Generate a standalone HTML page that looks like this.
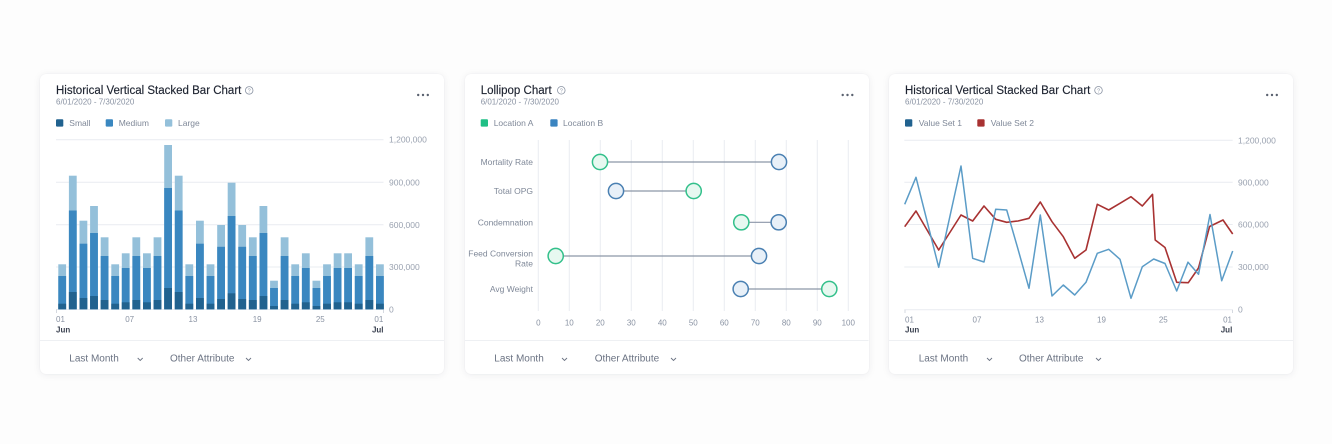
<!DOCTYPE html>
<html><head><meta charset="utf-8"><style>
html,body{margin:0;padding:0;background:#fdfdfd;}
body{width:1332px;height:444px;position:relative;overflow:hidden;font-family:"Liberation Sans",Arial,sans-serif;}
.card{position:absolute;top:74px;width:404px;height:300px;background:#fff;border-radius:6px;box-shadow:0 1px 8px rgba(20,30,50,0.07),0 0 1px rgba(20,30,50,0.08);}
svg{position:absolute;left:0;top:0;}
.t{font-size:11.5px;fill:#1d2330;stroke:#1d2330;stroke-width:0.15px;}
.s{font-size:8px;fill:#8a93a3;}
.lg{font-size:8.5px;fill:#7f8898;}
.ax{font-size:8.5px;fill:#9aa2b0;}
.xt{font-size:8px;fill:#8a93a3;}
.xb{font-size:8px;fill:#3a4150;font-weight:bold;}
.ft{font-size:10px;fill:#6b7383;}
.rl{font-size:8.5px;fill:#7f8898;}
</style></head><body>
<div class="card" style="left:40px"></div>
<div class="card" style="left:464.5px"></div>
<div class="card" style="left:889px"></div>
<svg width="1332" height="444" viewBox="0 0 1332 444">
<defs>
<g id="cA"><rect y="264.3" width="7.8" height="45" fill="#94c0da"/><rect y="276" width="7.8" height="33.3" fill="#3a87c0"/><rect y="303.7" width="7.8" height="5.6" fill="#21628f"/></g>
<g id="cB"><rect y="175.7" width="7.8" height="133.6" fill="#94c0da"/><rect y="210.5" width="7.8" height="98.8" fill="#3a87c0"/><rect y="292" width="7.8" height="17.3" fill="#21628f"/></g>
<g id="cC"><rect y="220.7" width="7.8" height="88.6" fill="#94c0da"/><rect y="243.7" width="7.8" height="65.6" fill="#3a87c0"/><rect y="298" width="7.8" height="11.3" fill="#21628f"/></g>
<g id="cD"><rect y="206" width="7.8" height="103.3" fill="#94c0da"/><rect y="233" width="7.8" height="76.3" fill="#3a87c0"/><rect y="296" width="7.8" height="13.3" fill="#21628f"/></g>
<g id="cE"><rect y="237.3" width="7.8" height="72" fill="#94c0da"/><rect y="256" width="7.8" height="53.3" fill="#3a87c0"/><rect y="300" width="7.8" height="9.3" fill="#21628f"/></g>
<g id="cF"><rect y="253.3" width="7.8" height="56" fill="#94c0da"/><rect y="268" width="7.8" height="41.3" fill="#3a87c0"/><rect y="302.3" width="7.8" height="7" fill="#21628f"/></g>
<g id="cG"><rect y="145" width="7.8" height="164.3" fill="#94c0da"/><rect y="188" width="7.8" height="121.3" fill="#3a87c0"/><rect y="288" width="7.8" height="21.3" fill="#21628f"/></g>
<g id="cH"><rect y="225" width="7.8" height="84.3" fill="#94c0da"/><rect y="246.8" width="7.8" height="62.5" fill="#3a87c0"/><rect y="299" width="7.8" height="10.3" fill="#21628f"/></g>
<g id="cI"><rect y="182.7" width="7.8" height="126.6" fill="#94c0da"/><rect y="216" width="7.8" height="93.3" fill="#3a87c0"/><rect y="293.3" width="7.8" height="16" fill="#21628f"/></g>
<g id="cJ"><rect y="280.7" width="7.8" height="28.6" fill="#94c0da"/><rect y="288" width="7.8" height="21.3" fill="#3a87c0"/><rect y="306" width="7.8" height="3.3" fill="#21628f"/></g>
</defs>

<!-- ========== LEFT CARD ========== -->
<text class="t" x="56" y="94">Historical Vertical Stacked Bar Chart</text>
<circle cx="249.2" cy="90.4" r="3.8" fill="none" stroke="#8a93a3" stroke-width="0.8"/>
<text x="249.2" y="92.6" font-size="5.5" fill="#8a93a3" text-anchor="middle">?</text>
<text class="s" x="56" y="104.5">6/01/2020 - 7/30/2020</text>
<g fill="#5b6270"><circle cx="418.2" cy="95" r="1.2"/><circle cx="423" cy="95" r="1.2"/><circle cx="427.8" cy="95" r="1.2"/></g>
<rect x="56" y="119.3" width="7.3" height="7.3" rx="1" fill="#21628f"/>
<text class="lg" x="69.3" y="126">Small</text>
<rect x="105.7" y="119.3" width="7.3" height="7.3" rx="1" fill="#3a87c0"/>
<text class="lg" x="118.7" y="126">Medium</text>
<rect x="165" y="119.3" width="7.3" height="7.3" rx="1" fill="#94c0da"/>
<text class="lg" x="178" y="126">Large</text>

<g stroke="#e9ecf1" stroke-width="1">
<line x1="56" y1="139.7" x2="383.5" y2="139.7"/>
<line x1="56" y1="182.3" x2="383.5" y2="182.3"/>
<line x1="56" y1="224.8" x2="383.5" y2="224.8"/>
<line x1="56" y1="267" x2="383.5" y2="267"/>
<line x1="56" y1="309.5" x2="383.5" y2="309.5"/>
</g>
<text class="ax" x="389" y="142.7">1,200,000</text>
<text class="ax" x="389" y="185.3">900,000</text>
<text class="ax" x="389" y="227.8">600,000</text>
<text class="ax" x="389" y="270">300,000</text>
<text class="ax" x="389" y="312.5">0</text>
<use href="#cA" x="58.3"/><use href="#cB" x="68.9"/><use href="#cC" x="79.5"/><use href="#cD" x="90.1"/>
<use href="#cE" x="100.7"/><use href="#cA" x="111.3"/><use href="#cF" x="121.8"/><use href="#cE" x="132.4"/>
<use href="#cF" x="143.0"/><use href="#cE" x="153.6"/><use href="#cG" x="164.2"/><use href="#cB" x="174.8"/>
<use href="#cA" x="185.4"/><use href="#cC" x="196.0"/><use href="#cA" x="206.6"/><use href="#cH" x="217.2"/>
<use href="#cI" x="227.7"/><use href="#cH" x="238.3"/><use href="#cE" x="248.9"/><use href="#cD" x="259.5"/>
<use href="#cJ" x="270.1"/><use href="#cE" x="280.7"/><use href="#cA" x="291.3"/><use href="#cF" x="301.9"/>
<use href="#cJ" x="312.5"/><use href="#cA" x="323.1"/><use href="#cF" x="333.7"/><use href="#cF" x="344.2"/>
<use href="#cA" x="354.8"/><use href="#cE" x="365.4"/><use href="#cA" x="376.0"/>
<g stroke="#d5d9e0" stroke-width="1"><line x1="56.5" y1="309.5" x2="56.5" y2="313"/><line x1="383.5" y1="309.5" x2="383.5" y2="313"/></g>
<text class="xt" x="56" y="322">01</text>
<text class="xb" x="56" y="332.3">Jun</text>
<text class="xt" x="129.7" y="322" text-anchor="middle">07</text>
<text class="xt" x="193" y="322" text-anchor="middle">13</text>
<text class="xt" x="257.2" y="322" text-anchor="middle">19</text>
<text class="xt" x="320.3" y="322" text-anchor="middle">25</text>
<text class="xt" x="383.3" y="322" text-anchor="end">01</text>
<text class="xb" x="383.5" y="332.3" text-anchor="end">Jul</text>
<line x1="40" y1="340.5" x2="444" y2="340.5" stroke="#eef0f3" stroke-width="1"/>
<text class="ft" x="69.3" y="361.5">Last Month</text>
<polyline points="137.7,358 140.2,360.5 142.7,358" fill="none" stroke="#6b7383" stroke-width="0.9"/>
<text class="ft" x="170" y="361.5">Other Attribute</text>
<polyline points="246,358 248.5,360.5 251,358" fill="none" stroke="#6b7383" stroke-width="0.9"/>

<!-- ========== MIDDLE CARD ========== -->
<text class="t" x="480.7" y="94">Lollipop Chart</text>
<circle cx="561.3" cy="90.3" r="3.8" fill="none" stroke="#8a93a3" stroke-width="0.8"/>
<text x="561.3" y="92.5" font-size="5.5" fill="#8a93a3" text-anchor="middle">?</text>
<text class="s" x="480.7" y="104.5">6/01/2020 - 7/30/2020</text>
<g fill="#5b6270"><circle cx="842.7" cy="95" r="1.2"/><circle cx="847.5" cy="95" r="1.2"/><circle cx="852.3" cy="95" r="1.2"/></g>
<rect x="480.7" y="119.3" width="7.3" height="7.3" rx="1" fill="#1fbf85"/>
<text class="lg" x="493.7" y="126">Location A</text>
<rect x="550.3" y="119.3" width="7.3" height="7.3" rx="1" fill="#3a84c0"/>
<text class="lg" x="563" y="126">Location B</text>

<g stroke="#e9ecf1" stroke-width="1">
<line x1="538.3" y1="140" x2="538.3" y2="311"/>
<line x1="569.3" y1="140" x2="569.3" y2="311"/>
<line x1="600.3" y1="140" x2="600.3" y2="311"/>
<line x1="631.3" y1="140" x2="631.3" y2="311"/>
<line x1="662.3" y1="140" x2="662.3" y2="311"/>
<line x1="693.3" y1="140" x2="693.3" y2="311"/>
<line x1="724.3" y1="140" x2="724.3" y2="311"/>
<line x1="755.3" y1="140" x2="755.3" y2="311"/>
<line x1="786.3" y1="140" x2="786.3" y2="311"/>
<line x1="817.3" y1="140" x2="817.3" y2="311"/>
<line x1="848.3" y1="140" x2="848.3" y2="311"/>
</g>
<text class="xt" x="538.3" y="325.3" text-anchor="middle">0</text>
<text class="xt" x="569.3" y="325.3" text-anchor="middle">10</text>
<text class="xt" x="600.3" y="325.3" text-anchor="middle">20</text>
<text class="xt" x="631.3" y="325.3" text-anchor="middle">30</text>
<text class="xt" x="662.3" y="325.3" text-anchor="middle">40</text>
<text class="xt" x="693.3" y="325.3" text-anchor="middle">50</text>
<text class="xt" x="724.3" y="325.3" text-anchor="middle">60</text>
<text class="xt" x="755.3" y="325.3" text-anchor="middle">70</text>
<text class="xt" x="786.3" y="325.3" text-anchor="middle">80</text>
<text class="xt" x="817.3" y="325.3" text-anchor="middle">90</text>
<text class="xt" x="848.3" y="325.3" text-anchor="middle">100</text>
<text class="rl" x="533" y="165" text-anchor="end">Mortality Rate</text>
<text class="rl" x="533" y="194" text-anchor="end">Total OPG</text>
<text class="rl" x="533" y="225.3" text-anchor="end">Condemnation</text>
<text class="rl" x="533" y="256.7" text-anchor="end">Feed Conversion</text>
<text class="rl" x="533" y="266.3" text-anchor="end">Rate</text>
<text class="rl" x="533" y="292" text-anchor="end">Avg Weight</text>
<g stroke="#8c96a8" stroke-width="1.2">
<line x1="600" y1="162" x2="779" y2="162"/>
<line x1="616" y1="191" x2="693.7" y2="191"/>
<line x1="741.3" y1="222.3" x2="778.7" y2="222.3"/>
<line x1="555.7" y1="256" x2="759" y2="256"/>
<line x1="740.7" y1="289" x2="829.3" y2="289"/>
</g>
<g stroke-width="1.5">
<circle cx="600" cy="162" r="7.6" fill="#e7f8f0" stroke="#33c08b"/>
<circle cx="779" cy="162" r="7.6" fill="#e8f0f8" stroke="#4a80b2"/>
<circle cx="616" cy="191" r="7.6" fill="#e8f0f8" stroke="#4a80b2"/>
<circle cx="693.7" cy="191" r="7.6" fill="#e7f8f0" stroke="#33c08b"/>
<circle cx="741.3" cy="222.3" r="7.6" fill="#e7f8f0" stroke="#33c08b"/>
<circle cx="778.7" cy="222.3" r="7.6" fill="#e8f0f8" stroke="#4a80b2"/>
<circle cx="555.7" cy="256" r="7.6" fill="#e7f8f0" stroke="#33c08b"/>
<circle cx="759" cy="256" r="7.6" fill="#e8f0f8" stroke="#4a80b2"/>
<circle cx="740.7" cy="289" r="7.6" fill="#e8f0f8" stroke="#4a80b2"/>
<circle cx="829.3" cy="289" r="7.6" fill="#e7f8f0" stroke="#33c08b"/>
</g>
<line x1="464.5" y1="340.5" x2="868.5" y2="340.5" stroke="#eef0f3" stroke-width="1"/>
<text class="ft" x="494.3" y="361.5">Last Month</text>
<polyline points="562,358 564.5,360.5 567,358" fill="none" stroke="#6b7383" stroke-width="0.9"/>
<text class="ft" x="594.7" y="361.5">Other Attribute</text>
<polyline points="671,358 673.5,360.5 676,358" fill="none" stroke="#6b7383" stroke-width="0.9"/>

<!-- ========== RIGHT CARD ========== -->
<text class="t" x="905" y="94">Historical Vertical Stacked Bar Chart</text>
<circle cx="1098.5" cy="90.3" r="3.8" fill="none" stroke="#8a93a3" stroke-width="0.8"/>
<text x="1098.5" y="92.5" font-size="5.5" fill="#8a93a3" text-anchor="middle">?</text>
<text class="s" x="905" y="104.5">6/01/2020 - 7/30/2020</text>
<g fill="#5b6270"><circle cx="1267.2" cy="95" r="1.2"/><circle cx="1272" cy="95" r="1.2"/><circle cx="1276.8" cy="95" r="1.2"/></g>
<rect x="905" y="119.3" width="7.3" height="7.3" rx="1" fill="#21628f"/>
<text class="lg" x="918.7" y="126">Value Set 1</text>
<rect x="977.3" y="119.3" width="7.3" height="7.3" rx="1" fill="#a83232"/>
<text class="lg" x="990.7" y="126">Value Set 2</text>

<g stroke="#e9ecf1" stroke-width="1">
<line x1="904.3" y1="140.3" x2="1232.7" y2="140.3"/>
<line x1="904.3" y1="182.3" x2="1232.7" y2="182.3"/>
<line x1="904.3" y1="224.5" x2="1232.7" y2="224.5"/>
<line x1="904.3" y1="267" x2="1232.7" y2="267"/>
<line x1="904.3" y1="309.7" x2="1232.7" y2="309.7"/>
</g>
<text class="ax" x="1238" y="143.3">1,200,000</text>
<text class="ax" x="1238" y="185.3">900,000</text>
<text class="ax" x="1238" y="227.5">600,000</text>
<text class="ax" x="1238" y="270">300,000</text>
<text class="ax" x="1238" y="312.7">0</text>
<polyline fill="none" stroke="#a83232" stroke-width="1.6" stroke-linejoin="round" points="904.7,226.7 916,211 938.7,250 961,215 972.7,221 984,206 995.7,219.3 1006.7,222.3 1018,221 1029,218.3 1040.3,202 1052,221.7 1063.3,236.7 1074.7,258.3 1086,250 1097.3,204.3 1108.7,210 1120,203.3 1131,196.7 1142.3,206 1152.5,194.3 1155.2,240 1165,247.5 1176.7,282.3 1188.3,282.7 1198.5,268 1209.6,226.5 1223,220 1232.7,234"/>
<polyline fill="none" stroke="#5b9cc7" stroke-width="1.5" stroke-linejoin="round" points="904.7,204.3 916,177.3 938.7,267.3 961,166 972.7,258.3 984,262 995.7,209.3 1006.7,210 1017.3,246.7 1029,288.3 1040.3,215 1052,296 1063.3,285 1074.7,295 1086,282.3 1097.3,253.3 1108.7,249.3 1120,259.3 1131,298.3 1142.3,266.7 1153.7,259 1165,263.5 1176.7,291 1188,262.2 1198.5,274.3 1210,214.5 1221.7,280.7 1232.7,251"/>
<g stroke="#d5d9e0" stroke-width="1"><line x1="905" y1="309.7" x2="905" y2="313"/><line x1="1232.5" y1="309.7" x2="1232.5" y2="313"/></g>
<text class="xt" x="905" y="322.5">01</text>
<text class="xb" x="905" y="332.5">Jun</text>
<text class="xt" x="977" y="322.5" text-anchor="middle">07</text>
<text class="xt" x="1039.5" y="322.5" text-anchor="middle">13</text>
<text class="xt" x="1101.5" y="322.5" text-anchor="middle">19</text>
<text class="xt" x="1163.3" y="322.5" text-anchor="middle">25</text>
<text class="xt" x="1232" y="322.5" text-anchor="end">01</text>
<text class="xb" x="1232.3" y="332.5" text-anchor="end">Jul</text>
<line x1="889" y1="340.5" x2="1293" y2="340.5" stroke="#eef0f3" stroke-width="1"/>
<text class="ft" x="918.7" y="361.5">Last Month</text>
<polyline points="987,358 989.5,360.5 992,358" fill="none" stroke="#6b7383" stroke-width="0.9"/>
<text class="ft" x="1019" y="361.5">Other Attribute</text>
<polyline points="1096,358 1098.5,360.5 1101,358" fill="none" stroke="#6b7383" stroke-width="0.9"/>
</svg>
</body></html>
